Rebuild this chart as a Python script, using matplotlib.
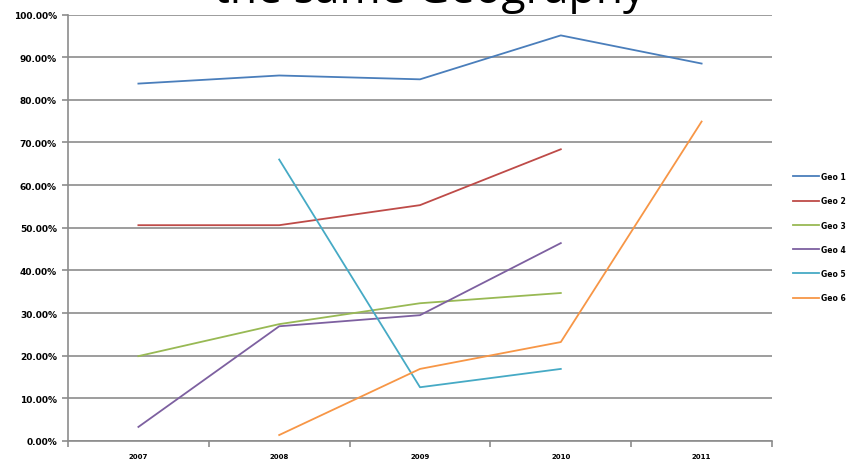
import numpy as np
import matplotlib
matplotlib.use("Agg")
import matplotlib.pyplot as plt

# Share of results per geography, by year
years = ["2007", "2008", "2009", "2010", "2011"]
geo_labels = ["Geo 1", "Geo 2", "Geo 3", "Geo 4", "Geo 5", "Geo 6"]
geo1 = [83.8, 85.7, 84.8, 95.1, 88.5]
geo2 = [50.6, 50.6, 55.3, 68.4, None]
geo3 = [19.9, 27.4, 32.3, 34.7, None]
geo4 = [3.3, 26.9, 29.5, 46.4, None]
geo5 = [None, 66.0, 12.6, 16.9, None]
geo6 = [None, 1.4, 16.9, 23.2, 74.9]

colores = ["#4A7EBB", "#BE4B48", "#98B954", "#7D60A0", "#46AAC5", "#F79646"]
series = [geo1, geo2, geo3, geo4, geo5, geo6]
gris = "#8C8C8C"

fig = plt.figure(figsize=(8.48, 4.64), dpi=100)
ax = fig.add_axes([68 / 848, 1 - 442 / 464, (772 - 68) / 848, (442 - 15.5) / 464])

x = np.arange(len(years))
for datos, color, nombre in zip(series, colores, geo_labels):
    y = np.array([np.nan if v is None else v for v in datos], dtype=float)
    ax.plot(x, y, color=color, lw=1.3, label=nombre)

ax.set_xlim(-0.5, len(years) - 0.5)
ax.set_ylim(0, 100)
ax.set_yticks(np.arange(0, 101, 10))
ax.set_yticklabels([f"{v:.2f}%" for v in range(0, 101, 10)],
                   fontsize=6.5, family="DejaVu Sans", fontweight="bold")
ax.set_xticks(x)
ax.set_xticklabels(years, fontsize=5, family="DejaVu Sans", fontweight="bold")
ax.set_xticks(np.arange(-0.5, len(years), 1), minor=True)
ax.tick_params(axis="x", which="major", length=0, pad=9)
ax.tick_params(axis="x", which="minor", length=4, color=gris, width=1.2)
ax.tick_params(axis="y", length=4, color=gris, width=1.2, pad=4)

ax.grid(axis="y", color=gris, lw=1.2)
ax.set_axisbelow(True)
for lado in ["top", "right"]:
    ax.spines[lado].set_visible(False)
for lado in ["left", "bottom"]:
    ax.spines[lado].set_color(gris)
    ax.spines[lado].set_linewidth(1.2)

ax.legend(loc="upper left", bbox_to_anchor=(793 / 848, 1 - 173 / 464),
          bbox_transform=fig.transFigure, frameon=False,
          prop={"size": 5.5, "weight": "bold", "family": "DejaVu Sans"},
          handlelength=3.4, handletextpad=0.3, labelspacing=2.0,
          borderaxespad=0, borderpad=0)

fig.text(430 / 848, 1 - 3 / 464, "the same Geography", ha="center",
         va="baseline", fontsize=32, family="Open Sans")

fig.savefig("out.png", dpi=100)
